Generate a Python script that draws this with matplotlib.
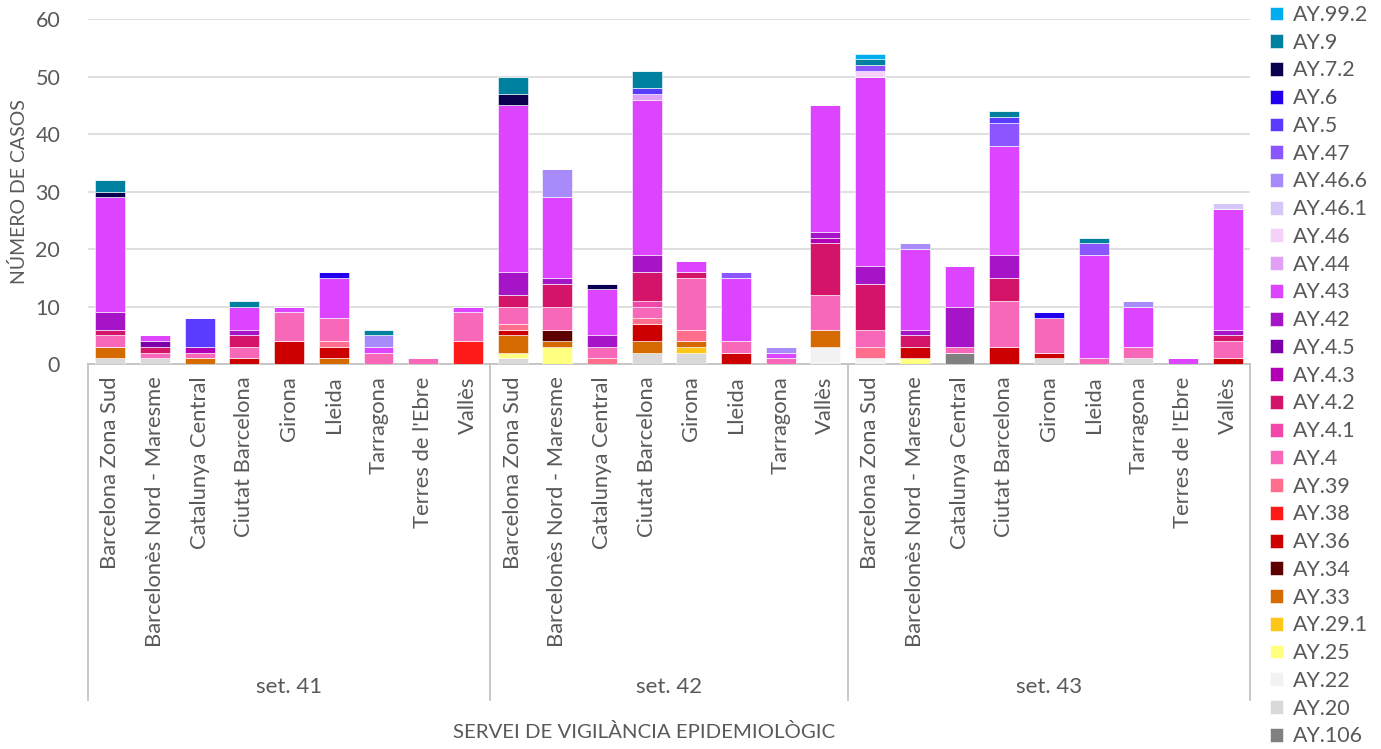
import matplotlib
matplotlib.use("Agg")
import matplotlib.pyplot as plt
import numpy as np
from matplotlib import transforms

plt.rcParams['font.family'] = ['Lato', 'DejaVu Sans']

# ---- categories ----
groups = ["set. 41", "set. 42", "set. 43"]
group_sizes = [9, 8, 9]
categories = [
    "Barcelona Zona Sud", "Barcelonès Nord - Maresme", "Catalunya Central", "Ciutat Barcelona",
    "Girona", "Lleida", "Tarragona", "Terres de l'Ebre", "Vallès",
    "Barcelona Zona Sud", "Barcelonès Nord - Maresme", "Catalunya Central", "Ciutat Barcelona",
    "Girona", "Lleida", "Tarragona", "Vallès",
    "Barcelona Zona Sud", "Barcelonès Nord - Maresme", "Catalunya Central", "Ciutat Barcelona",
    "Girona", "Lleida", "Tarragona", "Terres de l'Ebre", "Vallès",
]

# ---- series (stack order bottom -> top) ----
ay106  = [0,0,0,0,0,0,0,0,0, 0,0,0,0,0,0,0,0, 0,0,2,0,0,0,0,0,0]
ay20   = [1,1,0,0,0,0,0,0,0, 1,0,0,2,2,0,0,0, 0,0,0,0,1,0,1,0,0]
ay22   = [0,0,0,0,0,0,0,0,0, 0,0,0,0,0,0,0,3, 1,0,0,0,0,0,0,0,0]
ay25   = [0,0,0,0,0,0,0,0,0, 1,3,0,0,0,0,0,0, 0,1,0,0,0,0,0,0,0]
ay29_1 = [0,0,0,0,0,0,0,0,0, 0,0,0,0,1,0,0,0, 0,0,0,0,0,0,0,0,0]
ay33   = [2,0,1,0,0,1,0,0,0, 3,1,0,2,1,0,0,3, 0,0,0,0,0,0,0,0,0]
ay34   = [0,0,0,0,0,0,0,0,0, 0,2,0,0,0,0,0,0, 0,0,0,0,0,0,0,0,0]
ay36   = [0,0,0,1,4,2,0,0,0, 1,0,0,3,0,2,0,0, 0,2,0,3,1,0,0,0,1]
ay38   = [0,0,0,0,0,0,0,0,4, 0,0,0,0,0,0,0,0, 0,0,0,0,0,0,0,0,0]
ay39   = [0,0,0,0,0,1,0,0,0, 1,0,1,1,2,0,0,0, 2,0,0,0,0,0,0,0,0]
ay4    = [2,1,1,2,5,4,2,1,5, 3,4,2,2,9,2,1,6, 3,0,1,8,6,1,2,0,3]
ay4_1  = [0,0,0,0,0,0,0,0,0, 0,0,0,1,0,0,0,0, 0,0,0,0,0,0,0,0,0]
ay4_2  = [1,1,0,2,0,0,0,0,0, 2,4,0,5,1,0,0,9, 8,2,0,4,0,0,0,0,1]
ay4_3  = [0,0,1,0,0,0,0,0,0, 0,0,0,0,0,0,0,1, 0,0,0,0,0,0,0,0,0]
ay4_5  = [0,1,0,0,0,0,0,0,0, 0,0,0,0,0,0,0,0, 0,0,0,0,0,0,0,0,0]
ay42   = [3,0,0,1,0,0,0,0,0, 4,1,2,3,0,0,0,1, 3,1,7,4,0,0,0,0,1]
ay43   = [20,1,0,4,1,7,1,0,1, 29,14,8,27,2,11,1,22, 33,14,7,19,0,18,7,1,21]
ay44   = [0,0,0,0,0,0,0,0,0, 0,0,0,1,0,0,0,0, 0,0,0,0,0,0,0,0,0]
ay46   = [0,0,0,0,0,0,0,0,0, 0,0,0,0,0,0,0,0, 1,0,0,0,0,0,0,0,0]
ay46_1 = [0,0,0,0,0,0,0,0,0, 0,0,0,0,0,0,0,0, 0,0,0,0,0,0,0,0,1]
ay46_6 = [0,0,0,0,0,0,2,0,0, 0,5,0,0,0,0,1,0, 0,1,0,0,0,0,1,0,0]
ay47   = [0,0,0,0,0,0,0,0,0, 0,0,0,0,0,1,0,0, 1,0,0,4,0,2,0,0,0]
ay5    = [0,0,5,0,0,0,0,0,0, 0,0,0,1,0,0,0,0, 0,0,0,1,0,0,0,0,0]
ay6    = [0,0,0,0,0,1,0,0,0, 0,0,0,0,0,0,0,0, 0,0,0,0,1,0,0,0,0]
ay7_2  = [1,0,0,0,0,0,0,0,0, 2,0,1,0,0,0,0,0, 0,0,0,0,0,0,0,0,0]
ay9    = [2,0,0,1,0,0,1,0,0, 3,0,0,3,0,0,0,0, 1,0,0,1,0,1,0,0,0]
ay99_2 = [0,0,0,0,0,0,0,0,0, 0,0,0,0,0,0,0,0, 1,0,0,0,0,0,0,0,0]

series_names = ["AY.106", "AY.20", "AY.22", "AY.25", "AY.29.1", "AY.33", "AY.34", "AY.36",
                "AY.38", "AY.39", "AY.4", "AY.4.1", "AY.4.2", "AY.4.3", "AY.4.5", "AY.42",
                "AY.43", "AY.44", "AY.46", "AY.46.1", "AY.46.6", "AY.47", "AY.5", "AY.6",
                "AY.7.2", "AY.9", "AY.99.2"]
series_values = [ay106, ay20, ay22, ay25, ay29_1, ay33, ay34, ay36, ay38, ay39, ay4, ay4_1,
                 ay4_2, ay4_3, ay4_5, ay42, ay43, ay44, ay46, ay46_1, ay46_6, ay47, ay5, ay6,
                 ay7_2, ay9, ay99_2]
series_colors = ["#808080", "#D9D9D9", "#F2F2F2", "#FFFF80", "#FFC61A", "#D46A00", "#5C0000",
                 "#CC0000", "#FF1A1A", "#FF6E8C", "#F868B8", "#F048A8", "#D41468", "#B400B4",
                 "#7B00AA", "#A614C8", "#DD44FF", "#E0A0F5", "#F5D0F8", "#D5C8F8", "#A78BFA",
                 "#8B55FF", "#5A3CFF", "#2200EE", "#0A0050", "#00809F", "#00AEEF"]

TXT = "#595959"
W, H = 1381, 749
fig = plt.figure(figsize=(W / 100, H / 100), dpi=100)
ax = fig.add_axes([88 / W, 1 - 364 / H, (1250 - 88) / W, 345 / H])

x = np.arange(len(categories))
bottom = np.zeros(len(categories))
handles = []
for name, vals, col in zip(series_names, series_values, series_colors):
    v = np.array(vals, dtype=float)
    b = ax.bar(x, v, bottom=bottom, width=0.67, color=col, edgecolor="white",
               linewidth=0.4, label=name, zorder=3)
    handles.append(b)
    bottom += v

ax.set_xlim(-0.5, len(categories) - 0.5)
ax.set_ylim(0, 60)
ax.set_yticks(np.arange(0, 61, 10))
ax.yaxis.grid(True, color="#D9D9D9", linewidth=1.2, zorder=0)
ax.set_axisbelow(True)
for s in ["top", "right", "left"]:
    ax.spines[s].set_visible(False)
ax.spines["bottom"].set_color("#BFBFBF")
ax.spines["bottom"].set_linewidth(1.2)
ax.tick_params(axis="y", length=0, pad=20, labelsize=15.5, labelcolor=TXT)
ax.set_xticks(x)
ax.set_xticklabels(categories, rotation=90, fontsize=15.8, color=TXT, va="top")
ax.tick_params(axis="x", length=0, pad=9)

ax.set_ylabel("NÚMERO DE CASOS", fontsize=14, color=TXT)
ax.yaxis.set_label_coords((28 - 88) / 1162, 0.5)

# group separators and labels
trans = transforms.blended_transform_factory(ax.transData, fig.transFigure)
bounds = [-0.5]
for g in group_sizes:
    bounds.append(bounds[-1] + g)
for bx in bounds:
    ax.plot([bx, bx], [1 - 364 / H, 1 - 700 / H], transform=trans, color="#BFBFBF",
            linewidth=1.2, clip_on=False)
for i, gname in enumerate(groups):
    cx = (bounds[i] + bounds[i + 1]) / 2
    ax.text(cx, 1 - 687 / H, gname, transform=trans, ha="center", va="center",
            fontsize=16, color=TXT)

fig.text(644 / W, 1 - 732 / H, "SERVEI DE VIGILÀNCIA EPIDEMIOLÒGIC",
         ha="center", va="center", fontsize=14.7, color=TXT)

leg = fig.legend(handles[::-1], series_names[::-1], loc="upper left",
                 bbox_to_anchor=(1270 / W, 1 - 5 / H), frameon=False, fontsize=15.4,
                 handlelength=0.62, handleheight=0.62, handletextpad=0.45,
                 labelspacing=0.362, borderaxespad=0, borderpad=0)
for t in leg.get_texts():
    t.set_color(TXT)

fig.savefig("out.png", dpi=100)
